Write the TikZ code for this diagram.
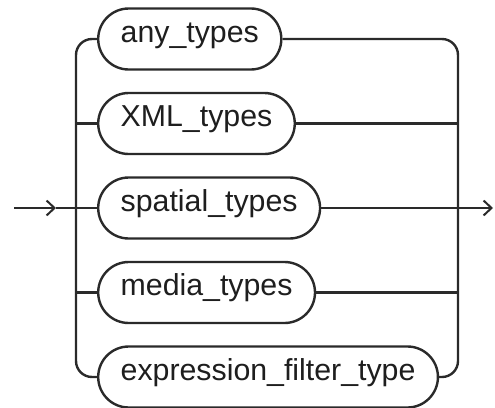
\documentclass[tikz,border=0pt]{standalone}
\usepackage{fontspec}
\setmainfont{Liberation Sans}
\usetikzlibrary{arrows.meta}
\definecolor{linecol}{HTML}{2A2A2A}
\definecolor{textcol}{HTML}{1E1E1E}
\begin{document}
\begin{tikzpicture}[x=1pt,y=-1pt,
  term/.style={draw=linecol, line width=2.4pt, rounded corners=30.5pt, fill=white,
    minimum height=61pt, inner xsep=22.5pt, inner ysep=0pt, anchor=west,
    font=\fontsize{30.3}{31}\selectfont, text=textcol,
    text height=0.72em, text depth=0.1em},
  conn/.style={draw=linecol, line width=2.4pt},
  tip/.style={-{Straight Barb[length=8pt,width=15pt,line width=2pt]}}]
\useasboundingbox (0,0) rectangle (495,407);
\node[term] (any) at (97,39) {any\_types};
\node[term] (xml) at (97,123.5) {XML\_types};
\node[term] (spa) at (97,208) {spatial\_types};
\node[term] (med) at (97,292.5) {media\_types};
\node[term] (exf) at (97,377) {expression\_filter\_type};
\coordinate (start) at (14,208);
\coordinate (ah) at (56,208);
\coordinate (lj) at (76,208);
\coordinate (rj) at (458,208);
\coordinate (finish) at (493,208);
% entry
\draw[conn,tip] (start) -- (ah);
\draw[conn] (ah) -- (spa.west);
% left branches
\draw[conn,rounded corners=16pt] (lj) |- (any.west);
\draw[conn,rounded corners=16pt] (lj) |- (exf.west);
\draw[conn] (xml.west -| lj) -- (xml.west);
\draw[conn] (med.west -| lj) -- (med.west);
% right branches
\draw[conn,rounded corners=16pt] (any.east) -| (rj);
\draw[conn,rounded corners=16pt] (exf.east) -| (rj);
\draw[conn] (xml.east) -- (xml.east -| rj);
\draw[conn] (med.east) -- (med.east -| rj);
% exit
\draw[conn,tip] (spa.east) -- (finish);
\end{tikzpicture}
\end{document}
